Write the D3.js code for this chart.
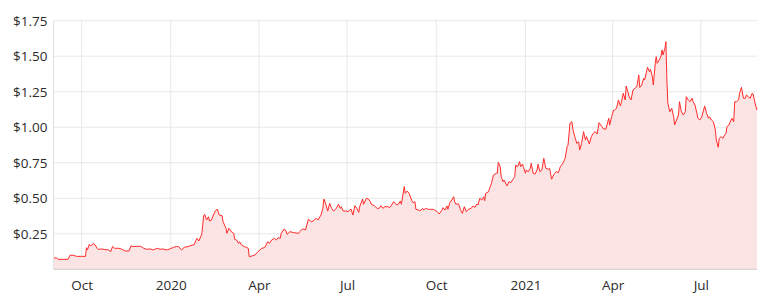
<!DOCTYPE html>
<html>
<head>
<meta charset="utf-8">
<script src="https://cdn.jsdelivr.net/npm/d3@7"></script>
<style>
  html, body { margin: 0; padding: 0; background: #fff; }
  svg { display: block; }
  text { font-family: "Open Sans", "Noto Sans", sans-serif; fill: #2b2b2b; }
</style>
</head>
<body>
<svg id="chart" width="763" height="300"></svg>
<script>
const dates = [
"2019-09-02","2019-09-05","2019-09-07","2019-09-12","2019-09-17","2019-09-19","2019-09-22","2019-09-26","2019-10-01","2019-10-05",
"2019-10-06","2019-10-07","2019-10-09","2019-10-10","2019-10-12","2019-10-13","2019-10-15","2019-10-17","2019-10-18","2019-10-22",
"2019-10-25","2019-10-29","2019-10-31","2019-11-02","2019-11-04","2019-11-08","2019-11-11","2019-11-13","2019-11-15","2019-11-19",
"2019-11-21","2019-11-23","2019-11-27","2019-12-01","2019-12-04","2019-12-07","2019-12-11","2019-12-14","2019-12-18","2019-12-21",
"2019-12-24","2019-12-28","2019-12-31","2020-01-04","2020-01-07","2020-01-09","2020-01-12","2020-01-15","2020-01-19","2020-01-23",
"2020-01-25","2020-01-28","2020-01-30","2020-02-02","2020-02-04","2020-02-05","2020-02-07","2020-02-09","2020-02-10","2020-02-12",
"2020-02-14","2020-02-16","2020-02-18","2020-02-20","2020-02-23","2020-02-24","2020-02-27","2020-02-28","2020-03-01","2020-03-04",
"2020-03-06","2020-03-07","2020-03-09","2020-03-11","2020-03-12","2020-03-14","2020-03-17","2020-03-19","2020-03-21","2020-03-22",
"2020-03-25","2020-03-28","2020-03-31","2020-04-04","2020-04-07","2020-04-10","2020-04-12","2020-04-14","2020-04-17","2020-04-19",
"2020-04-21","2020-04-23","2020-04-24","2020-04-27","2020-04-29","2020-04-30","2020-05-03","2020-05-07","2020-05-12","2020-05-13",
"2020-05-16","2020-05-19","2020-05-22","2020-05-25","2020-05-27","2020-05-30","2020-06-01","2020-06-04","2020-06-06","2020-06-07",
"2020-06-09","2020-06-11","2020-06-13","2020-06-15","2020-06-17","2020-06-20","2020-06-22","2020-06-24","2020-06-25","2020-06-27",
"2020-06-30","2020-07-02","2020-07-05","2020-07-07","2020-07-09","2020-07-11","2020-07-13","2020-07-14","2020-07-17","2020-07-18",
"2020-07-21","2020-07-23","2020-07-25","2020-07-26","2020-07-29","2020-08-01","2020-08-03","2020-08-05","2020-08-07","2020-08-09",
"2020-08-12","2020-08-14","2020-08-16","2020-08-18","2020-08-21","2020-08-23","2020-08-25","2020-08-26","2020-08-29","2020-08-30",
"2020-09-01","2020-09-03","2020-09-06","2020-09-07","2020-09-09","2020-09-10","2020-09-13","2020-09-14","2020-09-17","2020-09-18",
"2020-09-20","2020-09-23","2020-09-25","2020-09-28","2020-10-01","2020-10-03","2020-10-04","2020-10-07","2020-10-08","2020-10-10",
"2020-10-12","2020-10-13","2020-10-15","2020-10-17","2020-10-19","2020-10-20","2020-10-21","2020-10-24","2020-10-26","2020-10-27",
"2020-10-28","2020-10-30","2020-11-01","2020-11-03","2020-11-06","2020-11-08","2020-11-10","2020-11-12","2020-11-13","2020-11-15",
"2020-11-17","2020-11-19","2020-11-20","2020-11-21","2020-11-24","2020-11-25","2020-11-27","2020-11-29","2020-12-02","2020-12-03",
"2020-12-04","2020-12-06","2020-12-07","2020-12-09","2020-12-10","2020-12-12","2020-12-13","2020-12-15","2020-12-17","2020-12-20",
"2020-12-21","2020-12-22","2020-12-24","2020-12-26","2020-12-27","2020-12-29","2020-12-30","2021-01-01","2021-01-02","2021-01-04",
"2021-01-06","2021-01-07","2021-01-09","2021-01-11","2021-01-13","2021-01-14","2021-01-16","2021-01-18","2021-01-20","2021-01-22",
"2021-01-25","2021-01-26","2021-01-28","2021-01-31","2021-02-02","2021-02-04","2021-02-06","2021-02-09","2021-02-11","2021-02-13",
"2021-02-14","2021-02-16","2021-02-18","2021-02-19","2021-02-21","2021-02-23","2021-02-25","2021-02-26","2021-02-28","2021-03-02",
"2021-03-04","2021-03-05","2021-03-08","2021-03-10","2021-03-12","2021-03-14","2021-03-16","2021-03-17","2021-03-18","2021-03-21",
"2021-03-22","2021-03-25","2021-03-28","2021-03-29","2021-03-31","2021-04-02","2021-04-03","2021-04-05","2021-04-07","2021-04-09",
"2021-04-10","2021-04-12","2021-04-14","2021-04-15","2021-04-17","2021-04-18","2021-04-20","2021-04-22","2021-04-24","2021-04-26",
"2021-04-28","2021-04-29","2021-05-01","2021-05-03","2021-05-04","2021-05-07","2021-05-09","2021-05-10","2021-05-12","2021-05-13",
"2021-05-15","2021-05-16","2021-05-17","2021-05-19","2021-05-21","2021-05-22","2021-05-23","2021-05-25","2021-05-26","2021-05-27",
"2021-05-28","2021-05-30","2021-06-01","2021-06-03","2021-06-04","2021-06-06","2021-06-08","2021-06-09","2021-06-11","2021-06-13",
"2021-06-15","2021-06-16","2021-06-18","2021-06-20","2021-06-22","2021-06-23","2021-06-25","2021-06-27","2021-06-28","2021-06-30",
"2021-07-02","2021-07-05","2021-07-07","2021-07-09","2021-07-10","2021-07-12","2021-07-14","2021-07-16","2021-07-17","2021-07-19",
"2021-07-20","2021-07-22","2021-07-24","2021-07-25","2021-07-27","2021-07-28","2021-07-30","2021-08-02","2021-08-04","2021-08-05",
"2021-08-07","2021-08-09","2021-08-10","2021-08-12","2021-08-14","2021-08-16","2021-08-17","2021-08-19","2021-08-21","2021-08-23",
"2021-08-24","2021-08-26","2021-08-28"
];

const prices = [
0.080,0.080,0.070,0.070,0.070,0.099,0.099,0.091,0.091,0.091,
0.152,0.136,0.176,0.166,0.171,0.183,0.171,0.148,0.141,0.143,
0.139,0.136,0.124,0.161,0.148,0.148,0.143,0.136,0.129,0.129,
0.166,0.160,0.162,0.162,0.148,0.141,0.143,0.136,0.148,0.141,
0.143,0.136,0.143,0.155,0.160,0.160,0.136,0.155,0.160,0.171,
0.171,0.218,0.199,0.246,0.377,0.387,0.347,0.370,0.340,0.347,
0.382,0.410,0.424,0.382,0.377,0.335,0.289,0.253,0.289,0.261,
0.253,0.211,0.206,0.183,0.194,0.171,0.159,0.155,0.148,0.089,
0.094,0.101,0.124,0.148,0.153,0.194,0.183,0.206,0.218,0.206,
0.223,0.218,0.253,0.284,0.270,0.246,0.265,0.258,0.253,0.265,
0.284,0.277,0.352,0.335,0.340,0.359,0.347,0.382,0.429,0.495,
0.458,0.410,0.465,0.429,0.410,0.429,0.458,0.429,0.441,0.410,
0.410,0.406,0.424,0.382,0.448,0.429,0.401,0.441,0.495,0.458,
0.500,0.495,0.476,0.458,0.448,0.429,0.429,0.448,0.429,0.441,
0.441,0.434,0.453,0.476,0.453,0.458,0.481,0.458,0.582,0.535,
0.551,0.535,0.480,0.469,0.476,0.422,0.417,0.410,0.429,0.417,
0.429,0.422,0.422,0.422,0.410,0.399,0.389,0.417,0.434,0.417,
0.446,0.422,0.469,0.488,0.511,0.476,0.460,0.460,0.422,0.406,
0.394,0.441,0.406,0.422,0.429,0.446,0.436,0.460,0.453,0.500,
0.488,0.511,0.483,0.535,0.546,0.570,0.605,0.664,0.676,0.676,
0.753,0.722,0.652,0.617,0.629,0.600,0.587,0.617,0.610,0.641,
0.652,0.734,0.722,0.758,0.722,0.741,0.718,0.676,0.699,0.687,
0.710,0.746,0.676,0.670,0.699,0.740,0.687,0.699,0.781,0.711,
0.704,0.711,0.634,0.676,0.687,0.680,0.722,0.750,0.781,0.863,
0.875,1.028,1.039,0.985,0.934,0.887,0.898,0.840,0.887,0.969,
0.910,0.934,0.882,0.934,0.957,0.969,0.952,0.992,1.032,1.004,
0.992,0.985,1.063,1.016,1.074,1.121,1.121,1.133,1.192,1.150,
1.173,1.239,1.192,1.290,1.243,1.215,1.192,1.262,1.274,1.285,
1.368,1.280,1.297,1.344,1.333,1.422,1.391,1.408,1.356,1.297,
1.450,1.497,1.450,1.473,1.501,1.544,1.509,1.556,1.602,1.333,
1.169,1.109,1.133,1.074,1.016,1.051,1.086,1.180,1.109,1.086,
1.109,1.215,1.192,1.180,1.204,1.180,1.157,1.098,1.063,1.051,
1.074,1.150,1.098,1.063,1.074,1.051,1.039,0.981,0.910,0.859,
0.922,0.934,0.922,0.938,0.957,1.004,1.016,1.063,1.039,1.180,
1.180,1.192,1.239,1.281,1.204,1.204,1.227,1.215,1.204,1.239,
1.234,1.169,1.121
];

const xTickDates = ["2019-10-01","2020-01-01","2020-04-01","2020-07-01","2020-10-01","2021-01-01","2021-04-01","2021-07-01"];
const xTickLabels = ["Oct","2020","Apr","Jul","Oct","2021","Apr","Jul"];
const yTicks = [0.25, 0.50, 0.75, 1.00, 1.25, 1.50, 1.75];
const xDomain = ["2019-09-02","2021-08-28"];
const yDomain = [0, 1.75];

(function () {
  const parse = d3.timeParse("%Y-%m-%d");
  const n = Math.min(dates.length, prices.length);
  const data = d3.range(n).map(i => ({ date: parse(dates[i]), value: prices[i] }));

  const svg = d3.select("#chart");
  const mLeft = 53.5, mRight = 757, mTop = 20.7, mBottom = 269.3;
  const font = '"Open Sans", "Noto Sans", sans-serif';

  const x = d3.scaleTime().domain(xDomain.map(parse)).range([mLeft, mRight]);
  const y = d3.scaleLinear().domain(yDomain).range([mBottom, mTop]);

  svg.append("g")
    .selectAll("line")
    .data(yTicks)
    .join("line")
    .attr("x1", mLeft).attr("x2", mRight)
    .attr("y1", d => y(d)).attr("y2", d => y(d))
    .attr("stroke", "#e8e8e8").attr("stroke-width", 1);

  svg.append("g")
    .selectAll("line")
    .data(xTickDates.map(parse))
    .join("line")
    .attr("x1", d => x(d)).attr("x2", d => x(d))
    .attr("y1", mTop).attr("y2", mBottom)
    .attr("stroke", "#e8e8e8").attr("stroke-width", 1);

  const area = d3.area()
    .x(d => x(d.date))
    .y0(y(0))
    .y1(d => y(d.value));
  svg.append("path")
    .datum(data)
    .attr("d", area)
    .attr("fill", "#fde4e4");

  const line = d3.line()
    .x(d => x(d.date))
    .y(d => y(d.value));
  svg.append("path")
    .datum(data)
    .attr("d", line)
    .attr("fill", "none")
    .attr("stroke", "#ff2b2b")
    .attr("stroke-width", 1)
    .attr("stroke-linejoin", "round");

  svg.append("line")
    .attr("x1", mLeft).attr("x2", mLeft)
    .attr("y1", mTop).attr("y2", mBottom)
    .attr("stroke", "#e0e0e0");

  svg.append("line")
    .attr("x1", mLeft).attr("x2", mRight)
    .attr("y1", mBottom).attr("y2", mBottom)
    .attr("stroke", "#cccccc");

  const yAxis = d3.axisLeft(y).tickValues(yTicks).tickSize(0).tickPadding(6)
    .tickFormat(d => "$" + d3.format(".2f")(d));
  const gy = svg.append("g").attr("transform", `translate(${mLeft},0)`).call(yAxis);
  gy.select(".domain").remove();
  gy.selectAll("text").attr("font-size", 13.5).attr("fill", "#2b2b2b")
    .style("font-family", font);

  const xAxis = d3.axisBottom(x).tickValues(xTickDates.map(parse)).tickSize(0).tickPadding(11)
    .tickFormat((d, i) => xTickLabels[i]);
  const gx = svg.append("g").attr("transform", `translate(0,${mBottom})`).call(xAxis);
  gx.select(".domain").remove();
  gx.selectAll("text").attr("font-size", 13.5).attr("fill", "#2b2b2b")
    .style("font-family", font);
})();
</script>
</body>
</html>
